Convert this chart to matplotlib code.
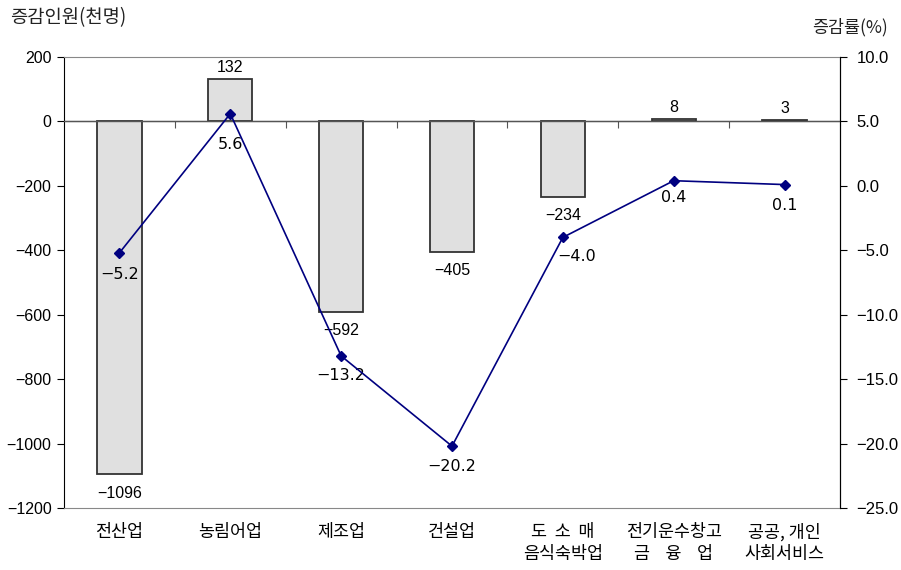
import numpy as np
import matplotlib
matplotlib.use("Agg")
import matplotlib.pyplot as plt

plt.rcParams['font.family'] = ['Liberation Sans', 'Noto Sans CJK KR', 'DejaVu Sans']

# -- data ---------------------------------------------------------
categories = ['전산업', '농림어업', '제조업', '건설업',
              '도  소  매\n음식숙박업', '전기운수창고\n금    융    업', '공공, 개인\n사회서비스']
change_k   = [-1096, 132, -592, -405, -234, 8, 3]        # 증감인원 (천명)
change_pct = [-5.2, 5.6, -13.2, -20.2, -4.0, 0.4, 0.1]   # 증감률 (%)

left_ticks  = list(range(-1200, 201, 200))
right_ticks = [-25.0, -20.0, -15.0, -10.0, -5.0, 0.0, 5.0, 10.0]


def minus(s):
    return s.replace('-', '\u2212')


# -- figure -------------------------------------------------------
W, H = 901, 570
fig = plt.figure(figsize=(W / 100, H / 100), dpi=100)
ax  = fig.add_axes((64 / W, (H - 508) / H, (840 - 64) / W, (508 - 57) / H))
x   = np.arange(len(categories))

bars = ax.bar(x, change_k, width=0.4, color='#e0e0e0', edgecolor='#333333', linewidth=1.3, zorder=2)
ax.set_xlim(-0.5, len(categories) - 0.5)
ax.set_ylim(left_ticks[0], left_ticks[-1])
ax.set_yticks(left_ticks, labels=[minus(str(v)) for v in left_ticks])
ax.set_xticks(x, labels=categories, fontfamily=['Noto Sans CJK KR'], fontsize=12.5,
              linespacing=1.25, va='top')
ax.tick_params(axis='x', length=0, pad=11)
ax.tick_params(axis='y', direction='out', length=5, labelsize=11.5, pad=4)

for side in ('top', 'bottom'):
    ax.spines[side].set_color('#888888')
ax.spines['left'].set_color('black')

# zero line with category separators
ax.axhline(0, color='#555555', linewidth=1.0, zorder=3)
zero_pos = (0 - left_ticks[0]) / (left_ticks[-1] - left_ticks[0])
sep = ax.secondary_xaxis(zero_pos)
sep.set_xticks(np.arange(0.5, len(categories) - 1, 1.0), labels=[])
sep.tick_params(direction='in', length=5, color='#555555')
sep.spines['bottom'].set_visible(False)

for b, v in zip(bars, change_k):
    off = 3 if v >= 0 else -8
    ax.annotate(minus(str(v)), (b.get_x() + b.get_width() / 2, v), xytext=(0, off),
                textcoords='offset points', ha='center',
                va='bottom' if v >= 0 else 'top', fontsize=11.5)

# -- rate line on the right axis ----------------------------------
ax2 = ax.twinx()
ax2.plot(x, change_pct, color='#000080', linewidth=1.2, marker='D', markersize=5, zorder=4)
ax2.set_ylim(right_ticks[0], right_ticks[-1])
ax2.set_yticks(right_ticks, labels=[minus(f'{v:.1f}') for v in right_ticks])
ax2.tick_params(axis='y', direction='out', length=5, labelsize=12, pad=7)
ax2.spines['right'].set_color('black')
ax2.spines['top'].set_visible(False)
ax2.spines['bottom'].set_visible(False)
ax2.spines['left'].set_visible(False)

label_dx = [0, 0, 0, 0, 10, 0, 0]
label_dy = [-10, -17, -9, -9, -8, -7, -10]
for i, v in enumerate(change_pct):
    ax2.annotate(minus(f'{v:.1f}'), (x[i], v), xytext=(label_dx[i], label_dy[i]),
                 textcoords='offset points', ha='center', va='top', fontsize=11.5,
                 fontfamily=['DejaVu Sans'])

# -- axis titles --------------------------------------------------
fig.text(10 / W, 1 - 18 / H, '증감인원(천명)', fontfamily=['Noto Sans CJK KR'],
         fontsize=13.5, va='center', ha='left', color='#222222')
fig.text(888 / W, 1 - 27 / H, '증감률(%)', fontfamily=['Noto Sans CJK KR'],
         fontsize=12.5, va='center', ha='right', color='#222222')

fig.savefig('out.png', dpi=100)
